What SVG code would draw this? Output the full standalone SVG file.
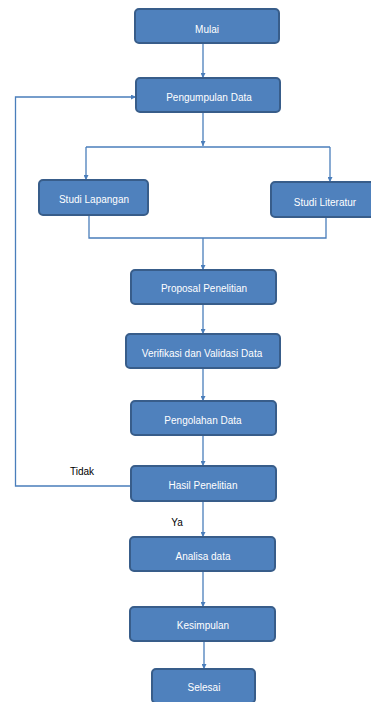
<svg xmlns="http://www.w3.org/2000/svg" width="371" height="702" viewBox="0 0 371 702">
<style>
.box{fill:#4F81BD;stroke:#385D8A;stroke-width:2}
.lbl{fill:#FFFFFF;font-family:"Liberation Sans",Arial,sans-serif;font-size:10px;text-anchor:middle}
.note{fill:#000000;font-family:"Liberation Sans",Arial,sans-serif;font-size:10px;text-anchor:middle}
.ln{fill:none;stroke:#4A7EBB;stroke-width:1.3}
</style>
<defs>
<marker id="ah" viewBox="0 0 10 10" refX="10" refY="5" markerWidth="5" markerHeight="5" markerUnits="userSpaceOnUse" orient="auto">
<path d="M0,0 L10,5 L0,10 z" fill="#4A7EBB"/>
</marker>
</defs>
<rect width="371" height="702" fill="#FFFFFF"/>
<g id="connectors">
<path class="ln" d="M203,43 V78" marker-end="url(#ah)"/>
<path class="ln" d="M203,112 V146" marker-end="url(#ah)"/>
<path class="ln" d="M86,147 H330"/>
<path class="ln" d="M86,147 V180" marker-end="url(#ah)"/>
<path class="ln" d="M330,147 V182" marker-end="url(#ah)"/>
<path class="ln" d="M89,216 V238 H326 V217"/>
<path class="ln" d="M203,238 V270" marker-end="url(#ah)"/>
<path class="ln" d="M203,304 V334" marker-end="url(#ah)"/>
<path class="ln" d="M203,368 V401" marker-end="url(#ah)"/>
<path class="ln" d="M203,435 V466" marker-end="url(#ah)"/>
<path class="ln" d="M131,486 H15.5 V97 H136" marker-end="url(#ah)"/>
<path class="ln" d="M203,501 V537" marker-end="url(#ah)"/>
<path class="ln" d="M203,571 V607" marker-end="url(#ah)"/>
<path class="ln" d="M204,641 V669" marker-end="url(#ah)"/>
<text class="note" x="82" y="475">Tidak</text>
<text class="note" x="177" y="526">Ya</text>
</g>
<g id="mulai"><rect class="box" x="135" y="9" width="144" height="34" rx="4"/><text class="lbl" x="207" y="33">Mulai</text></g>
<g id="pengumpulan"><rect class="box" x="136" y="78" width="144" height="34" rx="4"/><text class="lbl" x="209" y="101">Pengumpulan Data</text></g>
<g id="lapangan"><rect class="box" x="39" y="180" width="109" height="35" rx="4"/><text class="lbl" x="94" y="203">Studi Lapangan</text></g>
<g id="literatur"><rect class="box" x="271" y="182" width="104" height="35" rx="4"/><text class="lbl" x="325" y="206">Studi Literatur</text></g>
<g id="proposal"><rect class="box" x="131" y="270" width="145" height="34" rx="4"/><text class="lbl" x="204" y="292">Proposal Penelitian</text></g>
<g id="verifikasi"><rect class="box" x="126" y="334" width="154" height="34" rx="4"/><text class="lbl" x="202" y="357">Verifikasi dan Validasi Data</text></g>
<g id="pengolahan"><rect class="box" x="131" y="401" width="145" height="34" rx="4"/><text class="lbl" x="203" y="424">Pengolahan Data</text></g>
<g id="hasil"><rect class="box" x="131" y="466" width="145" height="35" rx="4"/><text class="lbl" x="203" y="489">Hasil Penelitian</text></g>
<g id="analisa"><rect class="box" x="130" y="537" width="145" height="34" rx="4"/><text class="lbl" x="203" y="560">Analisa data</text></g>
<g id="kesimpulan"><rect class="box" x="130" y="607" width="145" height="34" rx="4"/><text class="lbl" x="203" y="629">Kesimpulan</text></g>
<g id="selesai"><rect class="box" x="152" y="669" width="103" height="34" rx="4"/><text class="lbl" x="204" y="691">Selesai</text></g>
</svg>
